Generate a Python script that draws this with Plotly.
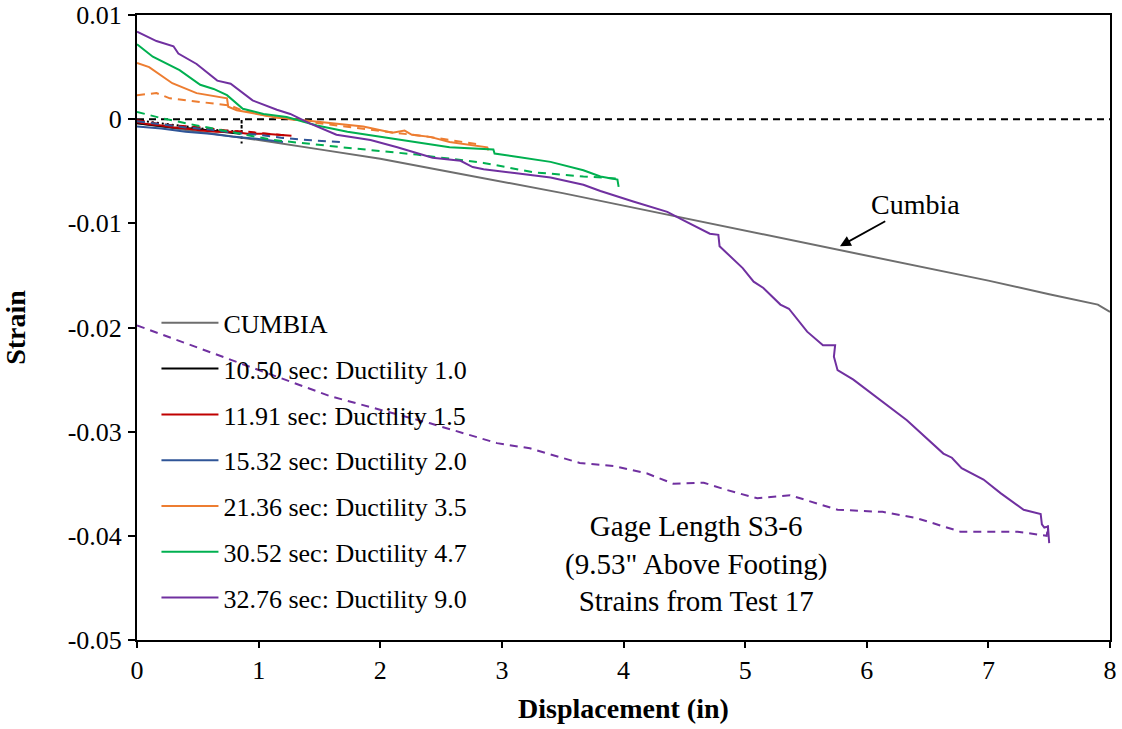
import plotly.graph_objects as go

# ---------------- data ----------------
cumbia_x = [0, 0.5, 1.0, 1.5, 2.0, 2.5, 3.0, 3.5, 4.0, 4.5, 5.0, 5.5, 6.0, 6.5, 7.0, 7.5, 7.9, 8.0]
cumbia_y = [-0.0004, -0.0012, -0.0020, -0.0029, -0.0038, -0.0049, -0.0060, -0.0071, -0.0083,
            -0.0095, -0.0107, -0.0119, -0.0131, -0.0143, -0.0155, -0.0168, -0.0178, -0.0185]

zero_x = [0, 8]
zero_y = [0, 0]

blk_x = [0, 0.15, 0.3, 0.45, 0.6, 0.75, 0.85]
blk_y = [-0.0004, -0.0006, -0.0008, -0.0009, -0.0011, -0.0013, -0.0014]
blk_dx = [0, 0.2, 0.4, 0.6, 0.86, 0.86, 0.86]
blk_dy = [-0.0001, -0.0004, -0.0007, -0.0010, -0.0012, 0.0000, -0.0024]

red_x = [0, 0.1, 0.2, 0.3, 0.4, 0.53, 0.65, 0.78, 0.91, 1.05, 1.27]
red_y = [-0.0003, -0.0005, -0.0006, -0.0008, -0.0009, -0.0011, -0.0012, -0.0012, -0.0014, -0.0014, -0.0016]
red_dx = [0, 0.15, 0.3, 0.45, 0.6, 0.75, 0.9, 1.05, 1.25]
red_dy = [-0.0001, -0.0004, -0.0006, -0.0007, -0.0009, -0.0011, -0.0012, -0.0014, -0.0016]

blu_x = [0, 0.2, 0.4, 0.6, 0.8, 1.0, 1.2]
blu_y = [-0.0007, -0.0009, -0.0012, -0.0014, -0.0017, -0.0019, -0.0022]
blu_dx = [0, 0.2, 0.4, 0.6, 0.8, 1.0, 1.2, 1.4, 1.67, 1.67]
blu_dy = [-0.0002, -0.0005, -0.0008, -0.0010, -0.0013, -0.0015, -0.0018, -0.0020, -0.0022, -0.0027]

org_x = [0, 0.1, 0.29, 0.49, 0.74, 0.75, 0.82, 1.12, 1.37, 1.86, 2.1, 2.2, 2.26, 2.41, 2.57, 2.88, 2.89]
org_y = [0.0054, 0.0050, 0.00345, 0.0025, 0.0020, 0.0012, 0.00086, 0.0002, -0.0001, -0.0007, -0.0013,
         -0.0011, -0.0015, -0.0017, -0.0022, -0.0027, -0.0030]
org_dx = [0, 0.16, 0.27, 0.49, 0.77, 0.85, 1.12, 1.5, 2.0, 2.4, 2.8]
org_dy = [0.0023, 0.0025, 0.0020, 0.0017, 0.0013, 0.0009, 0.0002, -0.0004, -0.0011, -0.0017, -0.0024]

grn_x = [0, 0.13, 0.35, 0.52, 0.63, 0.74, 0.87, 1.04, 1.23, 1.48, 1.73, 2.14, 2.41, 2.57, 2.93,
         2.94, 3.12, 3.4, 3.67, 3.81, 3.95, 3.96]
grn_y = [0.0072, 0.0060, 0.0047, 0.0033, 0.0029, 0.0023, 0.0010, 0.0005, 0.0002, -0.0006, -0.0012,
         -0.0019, -0.0024, -0.0027, -0.0029, -0.0033, -0.0036, -0.0041, -0.0049, -0.0055, -0.0058, -0.0065]
grn_dx = [0, 0.2, 0.49, 0.85, 1.12, 1.69, 2.3, 2.85, 3.26, 3.67, 3.95]
grn_dy = [0.0007, 0.0001, -0.0006, -0.0014, -0.0020, -0.0027, -0.0034, -0.0042, -0.0051, -0.0055, -0.0057]

pur_x = [0, 0.16, 0.30, 0.34, 0.49, 0.66, 0.77, 0.95, 1.15, 1.26, 1.42, 1.64, 1.92, 2.14, 2.43,
         2.66, 2.76, 2.85, 3.12, 3.4, 3.67, 3.81, 4.08, 4.36, 4.49, 4.71, 4.78, 4.79, 4.98, 5.07,
         5.15, 5.29, 5.36, 5.51, 5.64, 5.74, 5.73, 5.76, 5.89, 6.09, 6.33, 6.63, 6.70, 6.78, 6.96,
         7.1, 7.29, 7.43, 7.44, 7.46, 7.49, 7.5]
pur_y = [0.0084, 0.0075, 0.0070, 0.0063, 0.0053, 0.0037, 0.0034, 0.0018, 0.0009, 0.0005, -0.0004,
         -0.0015, -0.0020, -0.0027, -0.0037, -0.0040, -0.0046, -0.0048, -0.0052, -0.0056, -0.0063,
         -0.0069, -0.0079, -0.0089, -0.0097, -0.0110, -0.0111, -0.0122, -0.0143, -0.0156, -0.0162,
         -0.0178, -0.0182, -0.0204, -0.0217, -0.0217, -0.0228, -0.0241, -0.0250, -0.0268, -0.0289,
         -0.0321, -0.0325, -0.0335, -0.0346, -0.0359, -0.0375, -0.0379, -0.0389, -0.0392, -0.0391, -0.0407]
pur_dx = [0, 0.77, 1.59, 2.41, 2.96, 3.23, 3.64, 3.92, 4.19, 4.41, 4.66, 4.85, 5.1, 5.37, 5.76,
          6.13, 6.41, 6.77, 7.24, 7.48, 7.49, 7.49]
pur_dy = [-0.0198, -0.0231, -0.0266, -0.0292, -0.0311, -0.0316, -0.0330, -0.0333, -0.0340, -0.0350,
          -0.0349, -0.0356, -0.0364, -0.0361, -0.0375, -0.0377, -0.0383, -0.0396, -0.0396, -0.0400,
          -0.0390, -0.0402]

x_ticks = [0, 1, 2, 3, 4, 5, 6, 7, 8]
y_ticks = [0.01, 0, -0.01, -0.02, -0.03, -0.04, -0.05]
y_ticktext = ["0.01", "0", "-0.01", "-0.02", "-0.03", "-0.04", "-0.05"]

# ---------------- figure ----------------
FONT = "'Liberation Serif', 'Times New Roman', serif"
DASH = "8px,6px"
fig = go.Figure()

# zero line
fig.add_trace(go.Scatter(x=zero_x, y=zero_y, mode="lines", showlegend=False, hoverinfo="skip",
                         line=dict(color="black", width=2, dash="7px,5px")))

series = [
    ("CUMBIA", "#6e6e6e", cumbia_x, cumbia_y, None, None),
    ("10.50 sec: Ductility 1.0", "#000000", blk_x, blk_y, blk_dx, blk_dy),
    ("11.91 sec: Ductility 1.5", "#c00000", red_x, red_y, red_dx, red_dy),
    ("15.32 sec: Ductility 2.0", "#2f5597", blu_x, blu_y, blu_dx, blu_dy),
    ("21.36 sec: Ductility 3.5", "#ed7d31", org_x, org_y, org_dx, org_dy),
    ("30.52 sec: Ductility 4.7", "#00b050", grn_x, grn_y, grn_dx, grn_dy),
    ("32.76 sec: Ductility 9.0", "#7030a0", pur_x, pur_y, pur_dx, pur_dy),
]

for i, (name, col, sx, sy, dx, dy) in enumerate(series):
    if dx is not None:
        fig.add_trace(go.Scatter(x=dx, y=dy, mode="lines", showlegend=False, legendgroup=f"g{i}",
                                 line=dict(color=col, width=2, dash="2px,3px" if i == 1 else DASH)))
    fig.add_trace(go.Scatter(x=sx, y=sy, mode="lines", name=name, legendgroup=f"g{i}",
                             line=dict(color=col, width=2)))

# text annotations
fig.add_annotation(x=5.78, y=-0.0122, ax=76, ay=-42, axref="pixel", ayref="pixel",
                   text="Cumbia", showarrow=True, arrowhead=2, arrowsize=1.2, arrowwidth=1.8,
                   arrowcolor="black", font=dict(family=FONT, size=28, color="black"),
                   xanchor="center", yanchor="middle")
fig.add_annotation(x=4.6, y=-0.0427, xref="x", yref="y",
                   text="Gage Length S3-6<br>(9.53\" Above Footing)<br>Strains from Test 17",
                   showarrow=False, align="center",
                   font=dict(family=FONT, size=29, color="black"))

fig.update_layout(
    width=1122, height=729,
    margin=dict(l=137, r=12, t=15, b=89),
    paper_bgcolor="white", plot_bgcolor="white",
    font=dict(family=FONT, size=20, color="black"),
    legend=dict(x=0.02, y=0.545, xanchor="left", yanchor="top", bgcolor="rgba(0,0,0,0)",
                font=dict(family=FONT, size=26, color="black"), tracegroupgap=9,
                itemwidth=57),
    xaxis=dict(range=[0, 8], tickvals=x_ticks, showline=True, linecolor="black", linewidth=2,
               mirror=True, ticks="outside", ticklen=6, tickwidth=2, tickcolor="black",
               showgrid=False, zeroline=False, automargin=False, ticklabeloverflow="allow",
               tickfont=dict(family=FONT, size=26),
               title=dict(text="<b>Displacement (in)</b>", font=dict(family=FONT, size=28), standoff=14)),
    yaxis=dict(range=[-0.05, 0.01], tickvals=y_ticks, ticktext=y_ticktext, showline=True,
               linecolor="black", linewidth=2, mirror=True, ticks="outside", ticklen=7,
               tickwidth=2, tickcolor="black", showgrid=False, zeroline=False, automargin=False,
               ticklabeloverflow="allow",
               tickfont=dict(family=FONT, size=26), ticklabelstandoff=1,
               title=dict(text="<b>Strain</b>", font=dict(family=FONT, size=28), standoff=47)),
)

# remove the browser's default 8px page margin so the figure fills the window exactly
fig.write_html("out.html", config={"displayModeBar": False},
               post_script="document.body.style.margin='0';document.body.style.overflow='hidden';")
